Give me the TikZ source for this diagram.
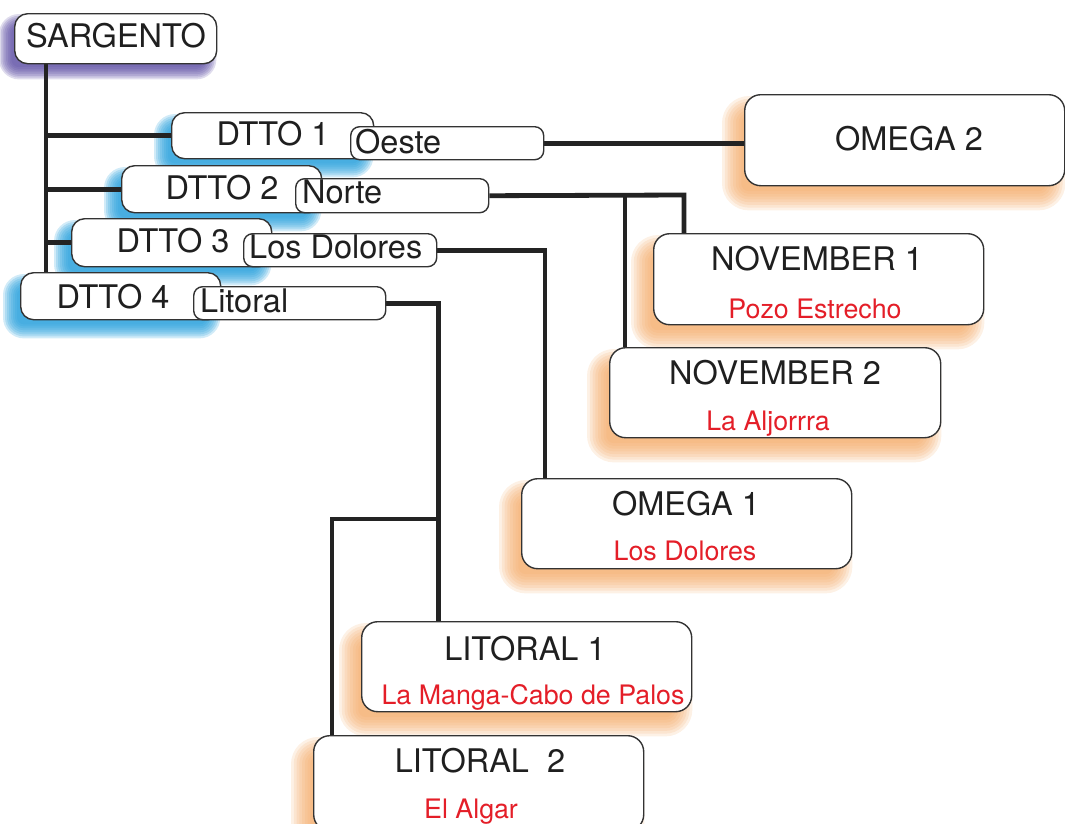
\documentclass[tikz,border=0pt]{standalone}
\usepackage{fontspec}
\setmainfont{TeX Gyre Heros}
\pgfdeclarelayer{shadows}
\pgfdeclarelayer{wires}
\pgfsetlayers{shadows,wires,main}
\definecolor{shpurple}{RGB}{95,80,165}
\definecolor{shblue}{RGB}{40,160,220}
\definecolor{shorange}{RGB}{243,165,95}
\definecolor{wirecol}{RGB}{35,35,35}
\definecolor{labred}{RGB}{228,30,40}
\newcommand{\softshadow}[7]{% node, colour, dx, dy, blur, radius, opacity
  \begin{pgfonlayer}{shadows}
  \foreach \f in {1,0.75,0.5,0.25,0,-0.25,-0.5,-0.75}{
    \pgfmathsetmacro\e{\f*#5}
    \pgfmathsetmacro\rr{max(2,#6+\e)}
    \fill[#2, opacity=#7, rounded corners=\rr pt]
      ([shift={({#3-(\e)},{#4-(\e)})}]#1.north west) rectangle
      ([shift={({#3+(\e)},{#4+(\e)})}]#1.south east);
  }
  \end{pgfonlayer}}
\begin{document}
\begin{tikzpicture}[x=1pt,y=-1pt,
  boxbase/.style={draw=black!80, line width=1.4pt, fill=white, inner sep=0pt, anchor=north west},
  headbox/.style={boxbase, rounded corners=13pt},
  tagbox/.style={boxbase, rounded corners=9pt},
  bigbox/.style={boxbase, rounded corners=16pt},
  wire/.style={draw=wirecol, line width=4.8pt, line join=miter},
  maintxt/.style={inner sep=0pt, text=black!88, font=\fontsize{32.5}{38}\selectfont, anchor=base},
  tagtxt/.style={maintxt, anchor=base west},
  redtxt/.style={inner sep=0pt, text=labred, font=\fontsize{26.8}{31}\selectfont, anchor=base}]
\useasboundingbox (0,0) rectangle (1065,823);
\clip (0,0) rectangle (1065,823);

% boxes
\node[headbox, minimum width=202pt, minimum height=50pt] (sarg) at (14,13) {};
\node[headbox, minimum width=202pt, minimum height=46pt] (d1) at (171,112) {};
\node[tagbox, minimum width=193pt, minimum height=33pt] (oeste) at (350,126) {};
\node[headbox, minimum width=200pt, minimum height=47pt] (d2) at (121,165) {};
\node[tagbox, minimum width=193pt, minimum height=34pt] (norte) at (295,178) {};
\node[headbox, minimum width=200pt, minimum height=48pt] (d3) at (71,218) {};
\node[tagbox, minimum width=193pt, minimum height=33pt] (dol) at (243,233) {};
\node[headbox, minimum width=200pt, minimum height=47pt] (d4) at (20,272) {};
\node[tagbox, minimum width=192pt, minimum height=33pt] (lit) at (193,286) {};
\node[bigbox, minimum width=320pt, minimum height=91pt] (omega2) at (744,94) {};
\node[bigbox, minimum width=330pt, minimum height=91pt] (nov1) at (653,233) {};
\node[bigbox, minimum width=331pt, minimum height=90pt] (nov2) at (609,347) {};
\node[bigbox, minimum width=330pt, minimum height=90pt] (omega1) at (521,478) {};
\node[bigbox, minimum width=330pt, minimum height=90pt] (lit1) at (361,621) {};
\node[bigbox, minimum width=330pt, minimum height=95pt] (lit2) at (313,735) {};

% shadows
\softshadow{sarg}{shpurple}{-8}{8}{7}{13}{0.2}
\softshadow{d1}{shblue}{-9}{10}{8}{13}{0.21}
\softshadow{d2}{shblue}{-9}{10}{8}{13}{0.21}
\softshadow{d3}{shblue}{-9}{10}{8}{13}{0.21}
\softshadow{d4}{shblue}{-9}{10}{8}{13}{0.21}
\softshadow{omega2}{shorange}{-11}{13}{11}{16}{0.16}
\softshadow{nov1}{shorange}{-11}{13}{11}{16}{0.16}
\softshadow{nov2}{shorange}{-11}{13}{11}{16}{0.16}
\softshadow{omega1}{shorange}{-11}{13}{11}{16}{0.16}
\softshadow{lit1}{shorange}{-11}{13}{11}{16}{0.16}
\softshadow{lit2}{shorange}{-11}{13}{11}{16}{0.16}

% junction points
\coordinate (tr) at (46,0);
\coordinate (j1) at (684,195);
\coordinate (j2) at (625,195);
\coordinate (j3) at (545,0);
\coordinate (j4) at (438.5,0);
\coordinate (j5) at (438.5,519);
\coordinate (j6) at (332,519);

% connectors
\begin{pgfonlayer}{wires}
\draw[wire] (sarg.south -| tr) -- (d4.north -| tr);
\draw[wire] (tr |- d1.west) -- (d1.west);
\draw[wire] (tr |- d2.west) -- (d2.west);
\draw[wire] (tr |- d3.west) -- (d3.west);
\draw[wire] (oeste.east) -- (oeste.east -| omega2.west);
\draw[wire] (norte.east) -- (j1) -- (j1 |- nov1.north);
\draw[wire] (j2) -- (j2 |- nov2.north);
\draw[wire] (dol.east) -- (dol.east -| j3) -- (j3 |- omega1.north);
\draw[wire] (lit.east) -- (lit.east -| j4) -- (j4 |- lit1.north);
\draw[wire] (j5) -- (j6) -- (j6 |- lit2.north);
\end{pgfonlayer}

% texts
\node[maintxt] (tsarg) at (116,47) {SARGENTO};
\node[maintxt] (td1) at (273,145) {DTTO 1};
\node[tagtxt] (toeste) at (355,153) {Oeste};
\node[maintxt] (td2) at (222,199) {DTTO 2};
\node[tagtxt] (tnorte) at (302,203) {Norte};
\node[maintxt] (td3) at (173,252) {DTTO 3};
\node[tagtxt] (tdol) at (249,258) {Los Dolores};
\node[maintxt] (td4) at (113,308) {DTTO 4};
\node[tagtxt] (tlit) at (200,312) {Litoral};
\node[maintxt] (tomega2) at (909,150) {OMEGA 2};
\node[maintxt] (tnov1) at (817,270) {NOVEMBER 1};
\node[redtxt] (tpozo) at (815,318) {Pozo Estrecho};
\node[maintxt] (tnov2) at (775,384) {NOVEMBER 2};
\node[redtxt] (talj) at (768,430) {La Aljorrra};
\node[maintxt] (tomega1) at (686,515) {OMEGA 1};
\node[redtxt] (tdolr) at (685,560) {Los Dolores};
\node[maintxt] (tlit1) at (525,660) {LITORAL 1};
\node[redtxt] (tmanga) at (533,704) {La Manga-Cabo de Palos};
\node[maintxt] (tlit2) at (480,772) {LITORAL\ \ 2};
\node[redtxt] (talgar) at (471,818) {El Algar};
\end{tikzpicture}
\end{document}
